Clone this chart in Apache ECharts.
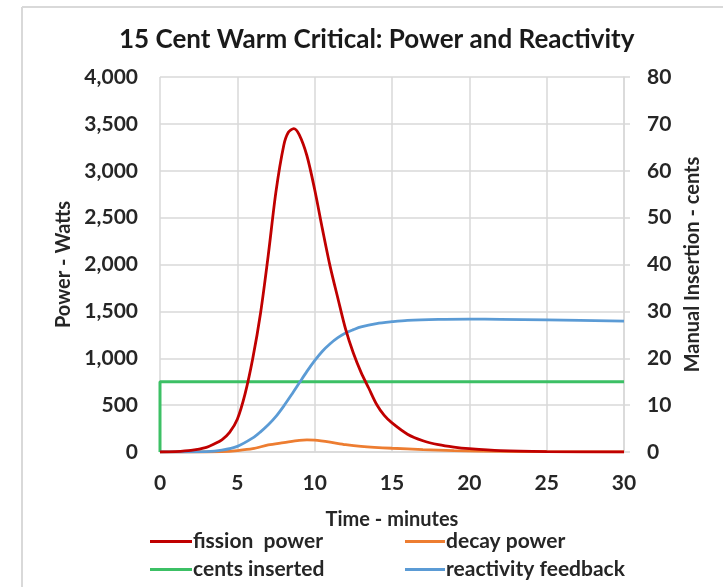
<!DOCTYPE html>
<html>
<head>
<meta charset="utf-8">
<script src="https://cdn.jsdelivr.net/npm/echarts@6/dist/echarts.min.js"></script>
<style>
html,body{margin:0;padding:0;background:#fff;}
#chart{width:723px;height:587px;}
</style>
</head>
<body>
<div id="chart"></div>
<script>
// ---- data ----
const xTicks = [0, 5, 10, 15, 20, 25, 30];
const fissionTime = [0, 1, 2, 3, 3.5, 4, 4.5, 5, 5.5, 6, 6.5, 7, 7.5, 8, 8.3, 8.65, 9, 9.5, 10, 10.5, 11, 11.5, 12, 12.5, 13, 13.5, 14, 14.5, 15, 16, 17, 18, 19, 20, 22, 25, 30];
const fissionPower = [0, 5, 18, 50, 85, 130, 210, 350, 620, 1000, 1480, 2100, 2780, 3270, 3410, 3450, 3385, 3160, 2800, 2380, 1980, 1640, 1310, 1056, 850, 680, 510, 390, 310, 190, 120, 78, 52, 35, 14, 4, 0];
const decayTime = [0, 3, 4, 5, 6, 7, 8, 9, 9.5, 10, 11, 12, 13, 15, 17, 19, 22, 25, 30];
const decayPower = [0, 0, 3, 15, 35, 75, 100, 125, 130, 127, 105, 78, 60, 40, 26, 15, 7, 3, 1];
const centsTime = [0, 0, 30];
const centsInserted = [0, 15, 15];
const feedbackTime = [0, 3, 4, 5, 6, 6.5, 7, 7.5, 8, 8.5, 9, 9.5, 10, 10.5, 11, 11.5, 12, 12.5, 13, 14, 15, 16, 18, 20, 22, 25, 30];
const reactivityFeedback = [0, 0.1, 0.4, 1.2, 3.0, 4.3, 5.8, 7.6, 9.8, 12.2, 14.7, 17.2, 19.5, 21.5, 23.1, 24.4, 25.4, 26.1, 26.7, 27.4, 27.8, 28.1, 28.3, 28.35, 28.3, 28.2, 27.9];

const pairs = (xs, ys) => xs.map((x, i) => [x, ys[i]]);

const FONT = 'Lato';
const lbl = {fontFamily: FONT, fontWeight: 'bold', fontSize: 21, color: '#262626'};
const nameLbl = {fontFamily: FONT, fontWeight: 'bold', fontSize: 20, color: '#262626'};
const grid = '#d9d9d9';

const chart = echarts.init(document.getElementById('chart'), null, {renderer: 'canvas'});
chart.setOption({
  animation: false,
  backgroundColor: '#fff',
  title: {
    text: '15 Cent Warm Critical: Power and Reactivity',
    left: 119, top: 27, padding: 0,
    textStyle: {fontFamily: FONT, fontWeight: 'bold', fontSize: 26, color: '#1a1a1a'}
  },
  graphic: [
    {type: 'line', shape: {x1: 22, y1: 7, x2: 723, y2: 7}, style: {stroke: grid, lineWidth: 2}},
    {type: 'line', shape: {x1: 22, y1: 7, x2: 22, y2: 587}, style: {stroke: grid, lineWidth: 2}}
  ],
  grid: {left: 160, right: 99, top: 77, bottom: 135},
  legend: [
    {
      orient: 'vertical', left: 145, top: 526, itemWidth: 42, itemHeight: 3, itemGap: 7,
      data: [{name: 'fission  power', icon: 'rect'}, {name: 'cents inserted', icon: 'rect'}],
      textStyle: Object.assign({}, lbl, {padding: [0, 0, 0, -4]})
    },
    {
      orient: 'vertical', left: 400, top: 526, itemWidth: 40, itemHeight: 3, itemGap: 7,
      data: [{name: 'decay power', icon: 'rect'}, {name: 'reactivity feedback', icon: 'rect'}],
      textStyle: Object.assign({}, lbl, {padding: [0, 0, 0, -4]})
    }
  ],
  xAxis: {
    type: 'value', min: 0, max: 30, interval: 5,
    name: 'Time - minutes', nameLocation: 'middle', nameGap: 58,
    nameTextStyle: nameLbl,
    axisLine: {lineStyle: {color: grid, width: 1.5}},
    axisTick: {show: false},
    axisLabel: Object.assign({}, lbl, {margin: 21}),
    splitLine: {show: true, lineStyle: {color: grid, width: 1.5}}
  },
  yAxis: [
    {
      type: 'value', min: 0, max: 4000, interval: 500,
      name: 'Power - Watts', nameLocation: 'middle', nameGap: 86, nameRotate: 90,
      nameTextStyle: nameLbl,
      axisLine: {show: false}, axisTick: {show: false},
      axisLabel: Object.assign({}, lbl, {margin: 22, formatter: v => v.toLocaleString('en-US')}),
      splitLine: {show: true, lineStyle: {color: grid, width: 1.5}}
    },
    {
      type: 'value', min: 0, max: 80, interval: 10, position: 'right',
      name: 'Manual Insertion - cents', nameLocation: 'middle', nameGap: 59, nameRotate: 90,
      nameTextStyle: nameLbl,
      axisLine: {show: true, lineStyle: {color: grid, width: 1.5}},
      axisTick: {show: true, length: 6, lineStyle: {color: grid, width: 1.5}},
      axisLabel: Object.assign({}, lbl, {margin: 23}),
      splitLine: {show: false}
    }
  ],
  series: [
    {
      name: 'fission  power', type: 'line', yAxisIndex: 0, smooth: 0.3, symbol: 'none',
      data: pairs(fissionTime, fissionPower),
      lineStyle: {color: '#c00000', width: 2.8}, itemStyle: {color: '#c00000'}, z: 3
    },
    {
      name: 'decay power', type: 'line', yAxisIndex: 0, smooth: 0.3, symbol: 'none',
      data: pairs(decayTime, decayPower),
      lineStyle: {color: '#ed7d31', width: 2.8}, itemStyle: {color: '#ed7d31'}, z: 2
    },
    {
      name: 'cents inserted', type: 'line', yAxisIndex: 1, symbol: 'none',
      data: pairs(centsTime, centsInserted),
      lineStyle: {color: '#3cc065', width: 3}, itemStyle: {color: '#3cc065'}, z: 2
    },
    {
      name: 'reactivity feedback', type: 'line', yAxisIndex: 1, smooth: 0.3, symbol: 'none',
      data: pairs(feedbackTime, reactivityFeedback),
      lineStyle: {color: '#5b9bd5', width: 2.8}, itemStyle: {color: '#5b9bd5'}, z: 2
    }
  ]
});
</script>
</body>
</html>
